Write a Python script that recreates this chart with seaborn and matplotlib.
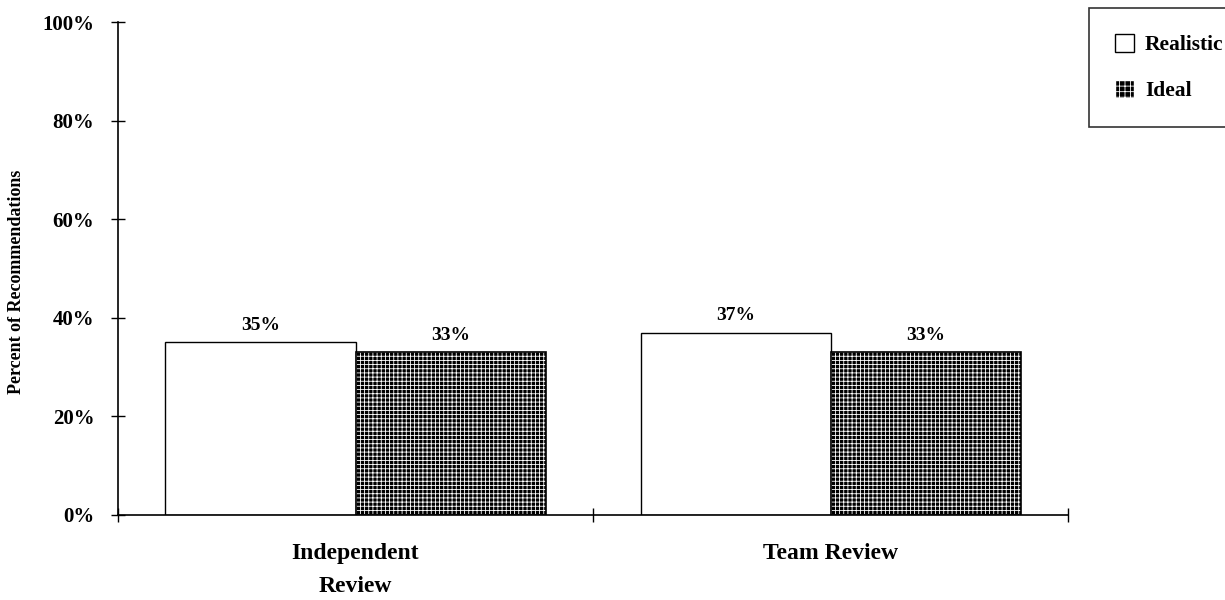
import pandas as pd
import seaborn as sns
import matplotlib.pyplot as plt
from matplotlib.patches import Rectangle

categories = ["Independent\nReview", "Team Review"]
realistic = [35, 37]
ideal = [33, 33]
series = ["Realistic", "Ideal"]
yticks = [0, 20, 40, 60, 80, 100]

df = pd.DataFrame({
    "category": categories * 2,
    "type": [series[0]] * 2 + [series[1]] * 2,
    "value": realistic + ideal,
})

sns.set_style("ticks")
plt.rcParams["font.family"] = ["Liberation Serif", "DejaVu Serif"]
plt.rcParams["font.weight"] = "bold"
plt.rcParams["text.color"] = "black"
plt.rcParams["axes.labelcolor"] = "black"
plt.rcParams["xtick.color"] = "black"
plt.rcParams["ytick.color"] = "black"
plt.rcParams["axes.edgecolor"] = "black"
plt.rcParams["hatch.linewidth"] = 0.6

fig = plt.figure(figsize=(12.25, 6), dpi=100)
ax = fig.add_axes([0.0963, 0.1417, 0.7757, 0.8216])

sns.barplot(data=df, x="category", y="value", hue="type", order=categories,
            hue_order=series, palette=["white", "black"], width=0.8,
            edgecolor="black", linewidth=1.0, legend=False, ax=ax)

bars = [p for p in ax.patches if isinstance(p, Rectangle)]
for i, p in enumerate(bars):
    if i >= 2:
        p.set_hatch("++++")
        p.set_edgecolor("white")
        p.set_linewidth(0)
        ax.add_patch(Rectangle(p.get_xy(), p.get_width(), p.get_height(),
                               fill=False, edgecolor="black", linewidth=1.2))

for c in ax.containers:
    ax.bar_label(c, labels=[f"{v:.0f}%" for v in c.datavalues], padding=6,
                 fontsize=14, fontweight="bold")

ax.set_xlim(-0.5, 1.5)
ax.set_ylim(0, 100)
ax.set_yticks(yticks)
ax.set_yticklabels([f"{v}%" for v in yticks], fontsize=15, fontweight="bold")
ax.set_xticks([-0.5, 0.5, 1.5])
ax.set_xticklabels([])
ax.set_xticks([0, 1], minor=True)
ax.set_xticklabels(categories, minor=True, fontsize=17, fontweight="bold",
                   linespacing=1.75, va="top")
ax.tick_params(axis="x", which="minor", length=0, pad=20)
ax.tick_params(axis="both", which="major", direction="inout", length=10,
               width=1, color="black")
ax.tick_params(axis="y", pad=12)
ax.set_xlabel("")
ax.set_ylabel("Percent of Recommendations", fontsize=13, fontweight="bold")
ax.yaxis.set_label_coords(-0.098, 0.473)
sns.despine(ax=ax)
ax.spines["left"].set_linewidth(1.2)
ax.spines["bottom"].set_linewidth(1.2)

handles = [Rectangle((0, 0), 1, 1, facecolor="white", edgecolor="black"),
           Rectangle((0, 0), 1, 1, facecolor="black", edgecolor="white",
                     hatch="+++")]
leg = fig.legend(handles, series, loc="upper left",
                 bbox_to_anchor=(1089 / 1225, 1 - 8 / 600), frameon=True,
                 fancybox=False, edgecolor="black", fontsize=15.5,
                 handlelength=0.9, handleheight=0.9, labelspacing=1.15,
                 borderpad=1.2, handletextpad=0.5, borderaxespad=0)
leg.get_frame().set_linewidth(1.2)
for t in leg.get_texts():
    t.set_fontweight("bold")

fig.savefig("out.png", dpi=100)
